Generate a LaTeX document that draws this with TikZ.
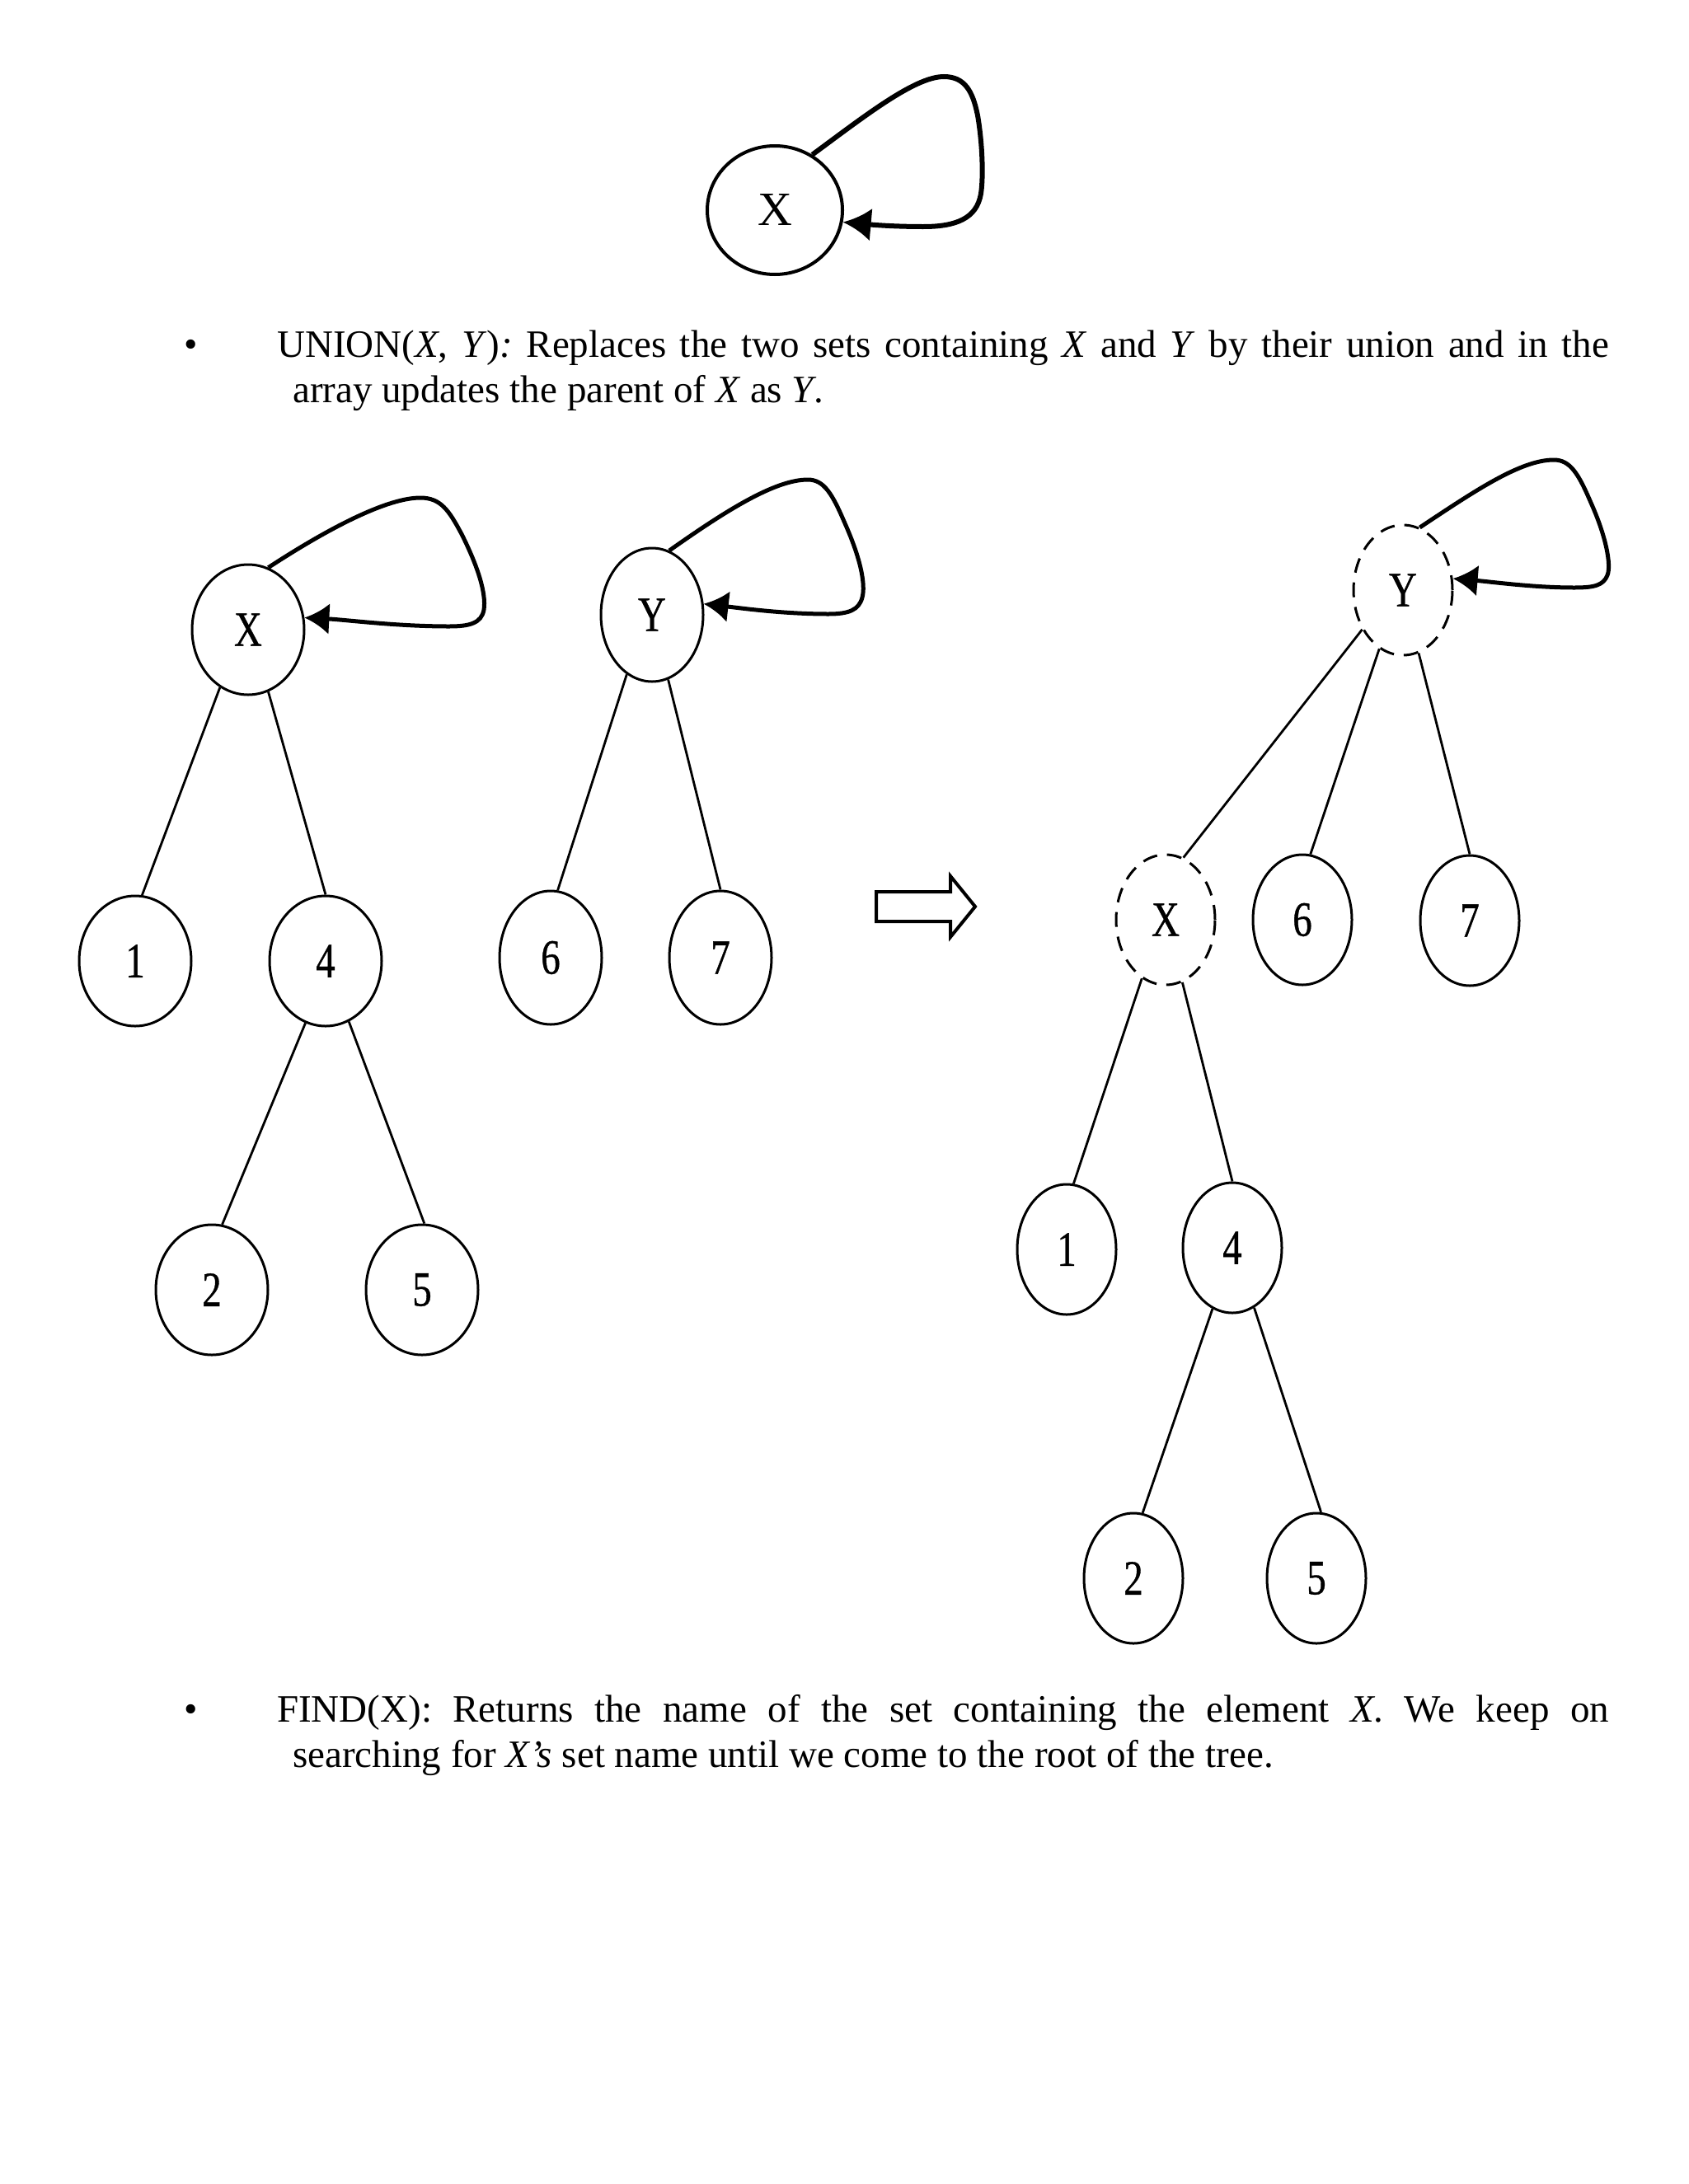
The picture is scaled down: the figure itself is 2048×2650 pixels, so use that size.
\documentclass[tikz,border=0pt]{standalone}
\usepackage{fontspec}
\setmainfont{Liberation Serif}
\newfontfamily\nodefont[FakeStretch=0.78,FakeBold=0.6]{Liberation Serif}
\usetikzlibrary{shapes.geometric,arrows.meta}
\begin{document}
\begin{tikzpicture}[x=1pt,y=-1pt,
  vnode/.style={ellipse, draw, line width=3pt, inner sep=0pt, font=\nodefont\fontsize{60}{62}\selectfont},
  lnodeA/.style={vnode, minimum width=136pt, minimum height=158pt},
  lnodeB/.style={vnode, minimum width=124pt, minimum height=162pt},
  rnode/.style={vnode, minimum width=120pt, minimum height=158pt},
  dashnode/.style={dash pattern=on 18pt off 12pt},
  treeline/.style={line width=2.8pt},
  selfloop/.style={line width=5pt, -{Latex[length=30pt,width=38pt]}},
  bodytext/.style={anchor=base west, inner sep=0pt, font=\fontsize{47}{55}\selectfont},
  bullettext/.style={anchor=base, inner sep=0pt, font=\fontsize{47}{55}\selectfont}
]
\useasboundingbox (0,0) rectangle (2048,2650);

% ---------- top single node ----------
\node[ellipse, draw, line width=4pt, inner sep=0pt, minimum width=164pt, minimum height=156pt,
      font=\fontsize{58}{60}\selectfont] (X0) at (940,255) {X};
\draw[line width=6pt, -{Latex[length=34pt,width=40pt]}] (X0.56)
  .. controls (1050,140) and (1110,93) .. (1145,93)
  .. controls (1170,93) and (1180,110) .. (1186,140)
  .. controls (1192,175) and (1193,215) .. (1190,235)
  .. controls (1185,265) and (1160,275) .. (1120,275)
  .. controls (1080,275) and (1050,272) .. (X0.350);

% ---------- UNION text ----------
\node[bullettext] (bu1) at (232,433) {•};
\node[bodytext] (tu1) at (336,433) {\makebox[1616pt][s]{UNION(\textit{X}, \textit{Y})\textit{:} Replaces the two sets containing \textit{X} and \textit{Y} by their union and in the}};
\node[bodytext] (tu2) at (355,488) {array updates the parent of \textit{X} as \textit{Y}.};

% ---------- left trees ----------
\node[lnodeA] (LX) at (301,764) {X};
\node[lnodeA] (L1) at (164,1166) {1};
\node[lnodeA] (L4) at (395,1166) {4};
\node[lnodeA] (L2) at (257,1565) {2};
\node[lnodeA] (L5) at (512,1565) {5};
\node[lnodeB] (LY) at (791,746) {Y};
\node[lnodeB] (L6) at (668,1162) {6};
\node[lnodeB] (L7) at (874,1162) {7};

\draw[treeline] (LX.244) -- (L1.84);
\draw[treeline] (LX.288) -- (L4.90);
\draw[treeline] (L4.252) -- (L2.81);
\draw[treeline] (L4.291) -- (L5.88);
\draw[treeline] (LY.247) -- (L6.84);
\draw[treeline] (LY.284) -- (L7.90);

\draw[selfloop] (LX.72)
  .. controls (400,640) and (470,604) .. (510,604)
  .. controls (535,604) and (545,620) .. (560,648)
  .. controls (580,688) and (590,720) .. (587,740)
  .. controls (584,756) and (570,760) .. (545,760)
  .. controls (480,760) and (420,752) .. (LX.12);

\draw[selfloop] (LY.75)
  .. controls (880,620) and (940,582) .. (980,582)
  .. controls (1000,582) and (1010,600) .. (1025,635)
  .. controls (1045,680) and (1050,710) .. (1046,725)
  .. controls (1042,740) and (1030,745) .. (1005,745)
  .. controls (950,745) and (900,738) .. (LY.12);

% ---------- transformation arrow ----------
\draw[line width=4pt, line join=miter] (1063,1082) -- (1153,1082) -- (1153,1063) -- (1183,1100)
  -- (1153,1137) -- (1153,1118) -- (1063,1118) -- cycle;

% ---------- right tree ----------
\node[rnode, dashnode] (RY) at (1702,716) {Y};
\node[rnode, dashnode] (RX) at (1414,1116) {X};
\node[rnode] (R6) at (1580,1116) {6};
\node[rnode] (R7) at (1783,1117) {7};
\node[rnode] (R1) at (1294,1516) {1};
\node[rnode] (R4) at (1495,1514) {4};
\node[rnode] (R2) at (1375,1915) {2};
\node[rnode] (R5) at (1597,1915) {5};

\draw[treeline] (RY.224) -- (RX.74);
\draw[treeline] (RY.248) -- (R6.83);
\draw[treeline] (RY.284) -- (R7.90);
\draw[treeline] (RX.248) -- (R1.84);
\draw[treeline] (RX.285) -- (R4.90);
\draw[treeline] (R4.252) -- (R2.82);
\draw[treeline] (R4.290) -- (R5.86);

\draw[selfloop] (RY.75)
  .. controls (1790,595) and (1845,558) .. (1885,558)
  .. controls (1905,558) and (1915,575) .. (1930,610)
  .. controls (1948,650) and (1955,685) .. (1950,698)
  .. controls (1945,710) and (1935,713) .. (1910,713)
  .. controls (1860,713) and (1810,706) .. (RY.13);

% ---------- FIND text ----------
\node[bullettext] (bf1) at (232,2089) {•};
\node[bodytext] (tf1) at (336,2089) {\makebox[1616pt][s]{FIND(X): Returns the name of the set containing the element \textit{X}. We keep on}};
\node[bodytext] (tf2) at (355,2144) {searching for \textit{X’s} set name until we come to the root of the tree.};
\end{tikzpicture}
\end{document}
